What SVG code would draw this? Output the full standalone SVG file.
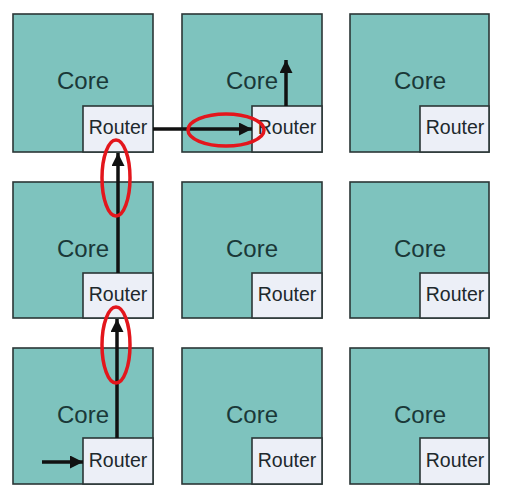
<svg xmlns="http://www.w3.org/2000/svg" width="505" height="499" viewBox="0 0 505 499">
<defs>
<style>
.core{fill:#7ec3be;stroke:#2b3636;stroke-width:1.6}
.router{fill:#eceff7;stroke:#2b3636;stroke-width:1.6}
.ct{font-family:"Liberation Sans",Arial,sans-serif;font-size:24px;fill:#1a3838;text-anchor:middle}
.rt{font-family:"Liberation Sans",Arial,sans-serif;font-size:19.5px;fill:#20282c;text-anchor:middle}
.arr{stroke:#111;stroke-width:3.5;fill:none;marker-end:url(#ah)}
.hl{fill:none;stroke:#e3161c;stroke-width:3.5}
</style>
<marker id="ah" markerUnits="userSpaceOnUse" viewBox="0 0 13 13" refX="13" refY="6.5" markerWidth="13" markerHeight="13" orient="auto">
<path d="M0,0 L13,6.5 L0,13 z" fill="#111"/>
</marker>
</defs>
<rect width="505" height="499" fill="#ffffff"/>

<g id="tile-1-1"><rect class="core" x="13" y="14" width="140" height="138"/><rect class="router" x="83" y="106" width="70" height="46"/><text class="ct" x="83" y="89">Core</text><text class="rt" x="118" y="134">Router</text></g>
<g id="tile-1-2"><rect class="core" x="182" y="14" width="140" height="138"/><rect class="router" x="252" y="106" width="70" height="46"/><text class="ct" x="252" y="89">Core</text><text class="rt" x="287" y="134">Router</text></g>
<g id="tile-1-3"><rect class="core" x="350" y="14" width="139" height="138"/><rect class="router" x="420" y="106" width="69" height="46"/><text class="ct" x="420" y="89">Core</text><text class="rt" x="455" y="134">Router</text></g>

<g id="tile-2-1"><rect class="core" x="13" y="182" width="140" height="136"/><rect class="router" x="83" y="273" width="70" height="45"/><text class="ct" x="83" y="257">Core</text><text class="rt" x="118" y="301">Router</text></g>
<g id="tile-2-2"><rect class="core" x="182" y="182" width="140" height="136"/><rect class="router" x="252" y="273" width="70" height="45"/><text class="ct" x="252" y="257">Core</text><text class="rt" x="287" y="301">Router</text></g>
<g id="tile-2-3"><rect class="core" x="350" y="182" width="139" height="136"/><rect class="router" x="420" y="273" width="69" height="45"/><text class="ct" x="420" y="257">Core</text><text class="rt" x="455" y="301">Router</text></g>

<g id="tile-3-1"><rect class="core" x="13" y="348" width="140" height="136"/><rect class="router" x="83" y="438" width="70" height="46"/><text class="ct" x="83" y="423">Core</text><text class="rt" x="118" y="467">Router</text></g>
<g id="tile-3-2"><rect class="core" x="182" y="348" width="140" height="136"/><rect class="router" x="252" y="438" width="70" height="46"/><text class="ct" x="252" y="423">Core</text><text class="rt" x="287" y="467">Router</text></g>
<g id="tile-3-3"><rect class="core" x="350" y="348" width="139" height="136"/><rect class="router" x="420" y="438" width="69" height="46"/><text class="ct" x="420" y="423">Core</text><text class="rt" x="455" y="467">Router</text></g>

<g id="connectors">
<line class="arr" x1="42" y1="462" x2="83" y2="462"/>
<line class="arr" x1="117" y1="438" x2="117" y2="319"/>
<line class="arr" x1="118" y1="273" x2="118" y2="153"/>
<line class="arr" x1="153" y1="129" x2="252" y2="129"/>
<line class="arr" x1="286" y1="106" x2="286" y2="60"/>
</g>

<g id="highlights">
<ellipse class="hl" cx="116" cy="178" rx="14" ry="38"/>
<ellipse class="hl" cx="116" cy="345" rx="14" ry="38"/>
<ellipse class="hl" cx="226" cy="130" rx="38" ry="16"/>
</g>
</svg>
